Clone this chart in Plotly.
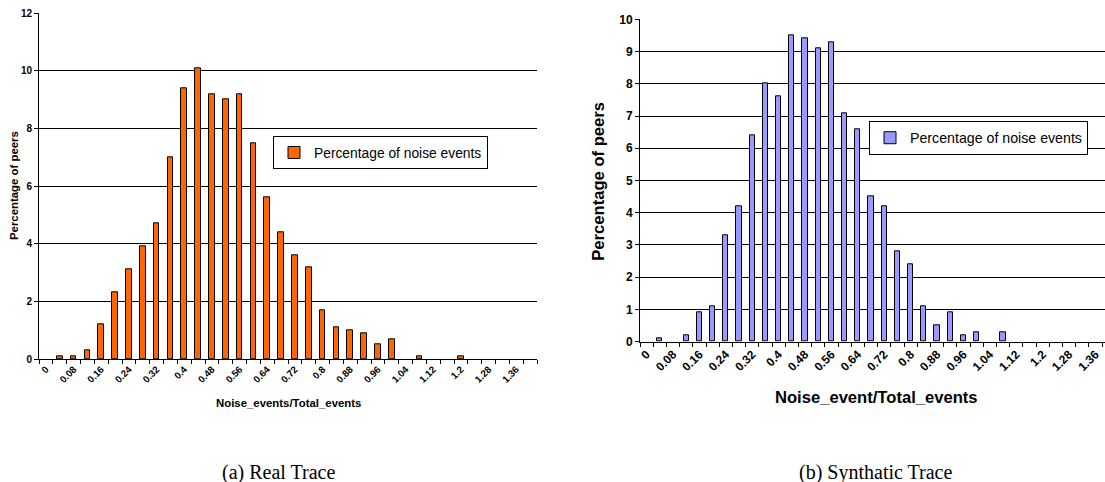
import plotly.graph_objects as go

# ---- data ----
categories = [0.00, 0.04, 0.08, 0.12, 0.16, 0.20, 0.24, 0.28, 0.32, 0.36,
              0.40, 0.44, 0.48, 0.52, 0.56, 0.60, 0.64, 0.68, 0.72, 0.76,
              0.80, 0.84, 0.88, 0.92, 0.96, 1.00, 1.04, 1.08, 1.12, 1.16,
              1.20, 1.24, 1.28, 1.32, 1.36, 1.40]

real_values = [0, 0.1, 0.1, 0.3, 1.2, 2.3, 3.1, 3.9, 4.7, 7.0,
               9.4, 10.1, 9.2, 9.0, 9.2, 7.5, 5.6, 4.4, 3.6, 3.2,
               1.7, 1.1, 1.0, 0.9, 0.5, 0.7, 0, 0.1, 0, 0,
               0.1, 0, 0, 0, 0, 0]

synthetic_values = [0, 0.1, 0, 0.2, 0.9, 1.1, 3.3, 4.2, 6.4, 8.0,
                    7.6, 9.5, 9.4, 9.1, 9.3, 7.1, 6.6, 4.5, 4.2, 2.8,
                    2.4, 1.1, 0.5, 0.9, 0.2, 0.3, 0, 0.3, 0, 0,
                    0, 0, 0, 0, 0, 0]

tick_values = [0.00, 0.08, 0.16, 0.24, 0.32, 0.40, 0.48, 0.56, 0.64, 0.72,
               0.80, 0.88, 0.96, 1.04, 1.12, 1.20, 1.28, 1.36]
tick_labels = ["0", "0.08", "0.16", "0.24", "0.32", "0.4", "0.48", "0.56", "0.64", "0.72",
               "0.8", "0.88", "0.96", "1.04", "1.12", "1.2", "1.28", "1.36"]

series_name = "Percentage of noise events"
y_title = "Percentage of peers"
x_title_a = "Noise_events/Total_events"
x_title_b = "Noise_event/Total_events"
caption_a = "(a) Real Trace"
caption_b = "(b) Synthatic Trace"

# ---- figure ----
W, H = 1105, 482
SANS = "Arial, 'Liberation Sans', sans-serif"
SERIF = "'Times New Roman', 'Liberation Serif', serif"

def px_x(p):
    return p / W

def px_y(p):
    return 1 - p / H

def hide_zero(vals):
    # empty categories draw no bar at all (no flat outline at 0)
    return [v if v > 0 else None for v in vals]

fig = go.Figure()

fig.add_trace(go.Bar(
    x=categories, y=hide_zero(real_values), name=series_name, width=0.016,
    marker=dict(color="#FF6600", line=dict(color="#000000", width=1)),
    xaxis="x", yaxis="y", legend="legend"))

fig.add_trace(go.Bar(
    x=categories, y=hide_zero(synthetic_values), name=series_name, width=0.016,
    marker=dict(color="#9999FF", line=dict(color="#000000", width=1)),
    xaxis="x2", yaxis="y2", legend="legend2"))

def xaxis_cfg(domain, rng, size, anchor):
    return dict(
        domain=domain, range=rng, anchor=anchor,
        tickmode="array", tickvals=tick_values, ticktext=tick_labels,
        tickangle=-45, ticks="", showgrid=False, zeroline=False,
        showline=True, linecolor="#000000", linewidth=1,
        tickfont=dict(family=SANS, size=size, color="#000000", weight="bold"),
        minor=dict(tick0=-0.02, dtick=0.04, ticks="outside", ticklen=4,
                   tickcolor="#000000", tickwidth=1, showgrid=False),
        automargin=False, fixedrange=True)

def yaxis_cfg(domain, rng, dtick, size, anchor):
    return dict(
        domain=domain, range=rng, anchor=anchor, dtick=dtick, tick0=0,
        ticks="outside", ticklen=4, tickcolor="#000000", tickwidth=1,
        showgrid=True, gridcolor="#000000", gridwidth=1, zeroline=False,
        showline=True, linecolor="#000000", linewidth=1,
        tickfont=dict(family=SANS, size=size, color="#000000", weight="bold"),
        automargin=False, fixedrange=True)

fig.update_layout(
    width=W, height=H,
    margin=dict(l=0, r=0, t=0, b=0),
    paper_bgcolor="white", plot_bgcolor="white",
    bargap=0,
    xaxis=xaxis_cfg([px_x(39), px_x(537)], [-0.02, 1.42], 9.7, "y"),
    yaxis=yaxis_cfg([px_y(359), px_y(13.3)], [0, 12], 2, 10, "x"),
    xaxis2=xaxis_cfg([px_x(640), 1.0], [-0.02, 1.389], 12, "y2"),
    yaxis2=yaxis_cfg([px_y(341.7), px_y(19.3)], [0, 10], 1, 12, "x2"),
    legend=dict(x=px_x(273), y=px_y(136), xanchor="left", yanchor="top",
                bgcolor="white", bordercolor="#000000", borderwidth=1,
                itemwidth=30,
                font=dict(family=SANS, size=13.8, color="#000000")),
    legend2=dict(x=px_x(869), y=px_y(121), xanchor="left", yanchor="top",
                 bgcolor="white", bordercolor="#000000", borderwidth=1,
                 itemwidth=30,
                 font=dict(family=SANS, size=14.2, color="#000000")),
    showlegend=True,
)

annotations = [
    dict(text=y_title, x=px_x(14), y=px_y(186), textangle=-90,
         font=dict(family=SANS, size=11.4, color="#000000", weight="bold")),
    dict(text=x_title_a, x=px_x(288.7), y=px_y(402.5),
         font=dict(family=SANS, size=11.4, color="#000000", weight="bold")),
    dict(text=y_title, x=px_x(599), y=px_y(181.7), textangle=-90,
         font=dict(family=SANS, size=16.6, color="#000000", weight="bold")),
    dict(text=x_title_b, x=px_x(876), y=px_y(397.5),
         font=dict(family=SANS, size=16.6, color="#000000", weight="bold")),
    dict(text=caption_a, x=px_x(278), y=px_y(472.5),
         font=dict(family=SERIF, size=20, color="#000000")),
    dict(text=caption_b, x=px_x(875), y=px_y(472.5),
         font=dict(family=SERIF, size=20, color="#000000")),
]
for a in annotations:
    a.update(xref="paper", yref="paper", showarrow=False,
             xanchor="center", yanchor="middle")
fig.update_layout(annotations=annotations)

fig.write_html("out.html")
